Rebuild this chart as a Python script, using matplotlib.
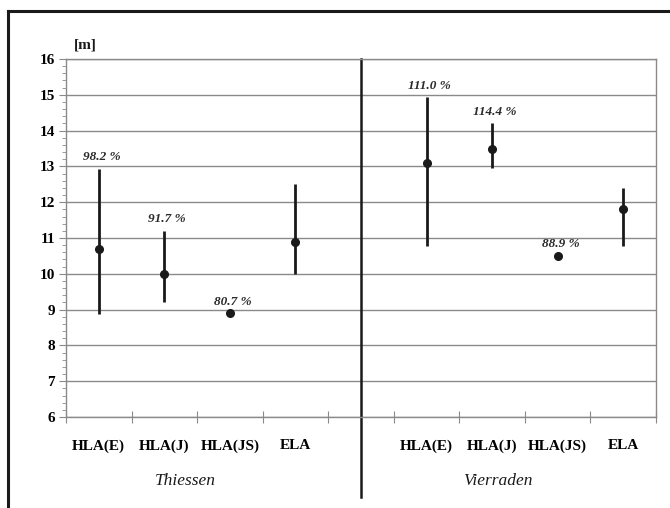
import numpy as np
import matplotlib
matplotlib.use("Agg")
import matplotlib.pyplot as plt
from matplotlib.lines import Line2D
import matplotlib.transforms as mtransforms

# data
methods = ["HLA(E)", "HLA(J)", "HLA(JS)", "ELA"]
groups = ["Thiessen", "Vierraden"]

thiessen_mean = [10.7, 10.0, 8.9, 10.9]
thiessen_high = [12.93, 11.2, 8.9, 12.5]
thiessen_low = [8.87, 9.2, 8.9, 10.0]
thiessen_pct = ["98.2 %", "91.7 %", "80.7 %", None]

vierraden_mean = [13.1, 13.5, 10.5, 11.8]
vierraden_high = [14.93, 14.2, 10.5, 12.4]
vierraden_low = [10.77, 12.95, 10.5, 10.77]
vierraden_pct = ["111.0 %", "114.4 %", "88.9 %", None]

plt.rcParams['font.family'] = ['Liberation Serif', 'DejaVu Serif']

fig = plt.figure(figsize=(6.7, 5.08), dpi=100)
W, H = 670, 508
ax = fig.add_axes([66 / W, 1 - 417 / H, (656 - 66) / W, (417 - 59) / H])

dark = "#1a1a1a"
grey = "#8a8a8a"

# 9 category slots: 4 Thiessen, one empty gap, 4 Vierraden
x_th = np.arange(4)
x_vi = np.arange(4) + 5

for xs, mean, lo, hi, pct in [(x_th, thiessen_mean, thiessen_low, thiessen_high, thiessen_pct),
                              (x_vi, vierraden_mean, vierraden_low, vierraden_high, vierraden_pct)]:
    ax.vlines(xs, lo, hi, color=dark, lw=2, zorder=3)
    ax.plot(xs, mean, "o", color=dark, ms=5.5, zorder=4)
    for x, h, p in zip(xs, hi, pct):
        if p:
            ax.annotate(p, (x, h), xytext=(2, 4), textcoords="offset points",
                        ha="center", va="bottom", fontsize=9.5,
                        fontweight="bold", fontstyle="italic", color="#2a2a2a")

ax.set_xlim(-0.5, 8.5)
ax.set_ylim(6, 16)

# y axis
ax.set_yticks(np.arange(6, 17, 1))
ax.set_yticks(np.arange(6, 16.01, 0.2), minor=True)
ax.tick_params(axis="y", which="major", length=5, color=grey, labelsize=11, pad=3)
ax.tick_params(axis="y", which="minor", length=3, color=grey)
for lab in ax.get_yticklabels():
    lab.set_fontweight("bold")
ax.yaxis.grid(True, color=grey, lw=1)
ax.set_axisbelow(True)

# x axis: boundary ticks, labels at centers
ax.set_xticks(np.arange(-0.5, 9, 1))
ax.set_xticklabels([])
ax.set_xticks(list(x_th) + list(x_vi), minor=True)
ax.set_xticklabels(methods + methods, minor=True, fontweight="bold", fontsize=11)
ax.tick_params(axis="x", which="major", direction="inout", length=9, color=grey)
ax.tick_params(axis="x", which="minor", length=0, pad=16)

for s in ax.spines.values():
    s.set_color(grey)
    s.set_linewidth(1)

# group divider
trans = mtransforms.blended_transform_factory(ax.transData, ax.transAxes)
ax.add_line(Line2D([4, 4], [-0.223, 1], transform=trans, color=dark, lw=1.8, clip_on=False))

# group names
ax.text(185 / W, 1 - 481 / H, groups[0], transform=fig.transFigure, ha="center", va="center",
        fontsize=12.5, fontstyle="italic", color=dark)
ax.text(498 / W, 1 - 481 / H, groups[1], transform=fig.transFigure, ha="center", va="center",
        fontsize=12.5, fontstyle="italic", color=dark)

# unit label
fig.text(85 / W, 1 - 45 / H, "[m]", ha="center", va="center", fontsize=11,
         fontweight="bold", color=dark)

# outer frame (cut off at right and bottom)
fig.add_artist(Line2D([8 / W, 8 / W], [0, 1 - 11 / H], transform=fig.transFigure, color=dark, lw=2.2))
fig.add_artist(Line2D([8 / W, 1], [1 - 11 / H, 1 - 11 / H], transform=fig.transFigure, color=dark, lw=2.2))

fig.savefig("out.png", dpi=100)
